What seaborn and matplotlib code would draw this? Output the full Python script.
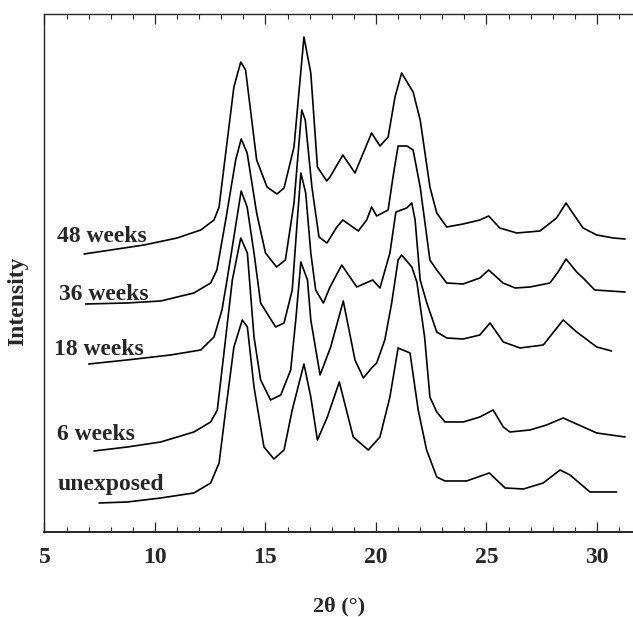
import numpy as np
import pandas as pd
import matplotlib
matplotlib.use("Agg")
import matplotlib.pyplot as plt
from matplotlib.ticker import MultipleLocator
import seaborn as sns

# XRD patterns, stacked (intensity in arbitrary units, offsets included)
x_48 = [6.79, 8.0, 9.5, 11.0, 12.07, 12.67, 12.9, 13.2, 13.57, 13.88,
        14.1, 14.6, 15.07, 15.52, 15.84, 16.29, 16.74, 17.05, 17.35, 17.77,
        17.92, 18.5, 19.05, 19.8, 20.18, 20.55, 20.86, 21.16, 21.68, 22.0,
        22.44, 22.75, 23.2, 23.94, 24.7, 25.1, 25.6, 26.37, 27.42, 28.17,
        28.6, 28.9, 29.37, 29.99, 30.74, 31.27]
y_48 = [278, 282, 287, 294, 302, 312, 325, 379, 445, 470,
        462, 372, 345, 338, 344, 385, 495, 459, 365, 351,
        355, 377, 359, 399, 386, 395, 435, 459, 440, 412,
        345, 319, 305, 308, 312, 316, 304, 299, 301, 314,
        329, 319, 304, 297, 294, 293]

x_36 = [6.86, 8.73, 10.26, 11.76, 12.52, 12.8, 13.2, 13.65, 13.9, 14.17,
        14.6, 15.0, 15.5, 15.9, 16.29, 16.64, 16.8, 17.1, 17.42, 17.78,
        18.23, 18.5, 19.2, 19.58, 19.8, 20.03, 20.55, 20.77, 21.0, 21.4,
        21.68, 22.0, 22.44, 22.75, 23.2, 23.94, 24.7, 25.1, 25.75, 26.3,
        26.97, 27.87, 28.24, 28.6, 29.08, 29.37, 29.9, 31.27]
y_36 = [228, 229, 231, 239, 249, 262, 312, 372, 393, 379,
        319, 279, 265, 272, 329, 422, 412, 345, 295, 289,
        305, 312, 301, 312, 325, 316, 322, 355, 386, 386,
        382, 345, 272, 262, 249, 248, 254, 262, 249, 244,
        245, 249, 260, 273, 260, 254, 242, 240]

x_18 = [7.0, 8.73, 10.7, 12.07, 12.67, 13.03, 13.26, 13.57, 13.9, 14.17,
        14.48, 14.78, 15.46, 15.84, 16.21, 16.44, 16.6, 16.82, 17.05, 17.27,
        17.62, 17.92, 18.45, 19.13, 19.85, 20.18, 20.63, 20.9, 21.39, 21.62,
        21.77, 22.0, 22.3, 22.75, 23.2, 23.95, 24.7, 25.16, 25.76, 26.52,
        27.57, 28.47, 29.08, 29.99, 30.66]
y_18 = [168, 172, 177, 182, 195, 222, 252, 295, 341, 325,
        279, 229, 205, 209, 242, 312, 359, 339, 279, 242,
        229, 245, 267, 245, 252, 244, 279, 320, 324, 329,
        312, 252, 229, 200, 194, 193, 197, 209, 190, 184,
        187, 212, 200, 185, 181]

x_6 = [7.24, 8.75, 10.26, 11.76, 12.52, 12.82, 13.12, 13.5, 13.88, 14.18,
       14.48, 14.78, 15.23, 15.69, 16.14, 16.37, 16.6, 16.9, 17.05, 17.47,
       17.95, 18.52, 19.05, 19.43, 19.8, 20.03, 20.4, 20.71, 21.0, 21.16,
       21.62, 21.85, 22.2, 22.44, 22.75, 23.12, 23.95, 24.7, 25.3, 25.76,
       26.06, 26.97, 27.72, 28.47, 29.38, 29.99, 31.27]
y_6 = [81, 85, 90, 100, 110, 122, 179, 252, 294, 279,
       195, 152, 132, 137, 162, 212, 270, 252, 212, 157,
       185, 231, 172, 154, 164, 169, 192, 229, 272, 277,
       265, 250, 195, 135, 120, 110, 110, 115, 122, 105,
       100, 102, 107, 114, 105, 99, 95]

x_0 = [7.47, 8.75, 10.26, 11.76, 12.52, 12.9, 13.2, 13.57, 13.95, 14.18,
       14.48, 14.93, 15.38, 15.84, 16.21, 16.74, 17.05, 17.35, 17.8, 18.34,
       18.97, 19.65, 20.18, 20.63, 21.0, 21.54, 21.91, 22.29, 22.75, 23.12,
       24.1, 25.13, 25.84, 26.67, 27.57, 28.33, 28.78, 29.68, 30.89]
y_0 = [29, 30, 34, 39, 49, 69, 122, 185, 212, 205,
       145, 85, 73, 82, 122, 168, 135, 92, 115, 150,
       95, 82, 95, 135, 184, 179, 122, 82, 55, 51,
       51, 59, 44, 43, 49, 62, 57, 40, 40]

labels = ["48 weeks", "36 weeks", "18 weeks", "6 weeks", "unexposed"]
label_x = [5.57, 5.66, 5.43, 5.57, 5.57]
label_y = [290, 232, 177, 92, 42]

series = [(x_48, y_48), (x_36, y_36), (x_18, y_18), (x_6, y_6), (x_0, y_0)]

sns.set_style("ticks")
plt.rcParams['font.family'] = ['Liberation Serif', 'DejaVu Serif']
plt.rcParams['font.weight'] = 'bold'

fig, ax = plt.subplots(figsize=(6.33, 6.17), dpi=100)
fig.subplots_adjust(left=0.0703, right=1.0, bottom=0.1378, top=0.9773)

for name, (xs, ys) in zip(labels, series):
    df = pd.DataFrame({"two_theta": xs, "intensity": ys})
    sns.lineplot(data=df, x="two_theta", y="intensity", color="black",
                 lw=1.2, estimator=None, sort=False, ax=ax)

for name, lx, ly in zip(labels, label_x, label_y):
    ax.text(lx, ly, name, fontsize=17, fontweight="bold",
            ha="left", va="baseline")

ax.set_xlim(5, 31.63)
ax.set_ylim(0, 518)
ax.set_yticks([])
ax.xaxis.set_major_locator(MultipleLocator(5))
ax.xaxis.set_minor_locator(MultipleLocator(1))
ax.tick_params(axis="x", which="both", direction="in", top=True, bottom=True,
               labelsize=17, pad=11)
ax.tick_params(axis="x", which="major", length=7, width=0.9)
ax.tick_params(axis="x", which="minor", length=3.5, width=0.8)
ax.spines["right"].set_visible(False)
for s in ["left", "top"]:
    ax.spines[s].set_linewidth(1.0)
ax.spines["bottom"].set_linewidth(1.4)

ax.set_xlabel("2θ (°)", fontsize=16, fontweight="bold", labelpad=20)
ax.set_ylabel("Intensity", fontsize=17, fontweight="bold")
ax.yaxis.set_label_coords(-0.028, 0.446)

plt.savefig("out.png", dpi=100)
